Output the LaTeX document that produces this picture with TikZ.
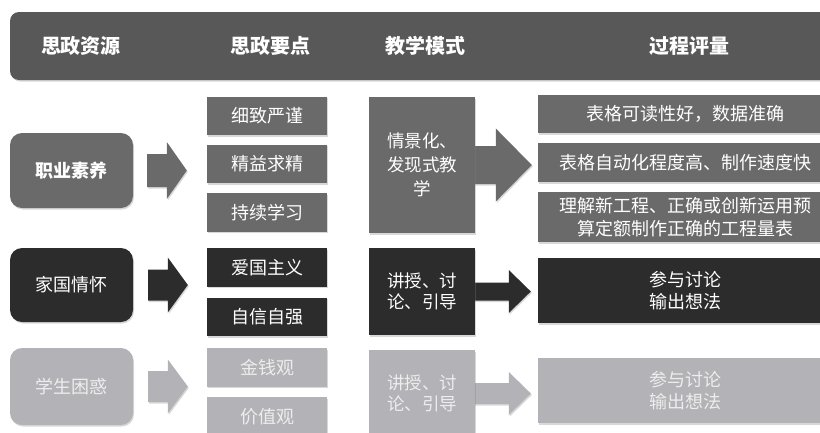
\documentclass[tikz,border=0pt]{standalone}
\usepackage{fontspec}
\setmainfont{Noto Sans CJK SC}
\usetikzlibrary{calc,shadows}
\pgfdeclarelayer{bg}
\pgfsetlayers{bg,main}
\definecolor{hdrc}{HTML}{585858}
\definecolor{rowA}{HTML}{6A6A6A}
\definecolor{rowB}{HTML}{2C2C2C}
\definecolor{rowC}{HTML}{B3B3B7}
\definecolor{txtC}{HTML}{EDEDED}
\newcommand\blockarr[8]{%
  \fill[#1] let \p1=(#2.east), \p2=(#3.west), \n1={\x1+#4}, \n2={\x2-#5} in
    (\n1,{\y1+#6}) -- ({\n2-#8},{\y1+#6}) -- ({\n2-#8},{\y1+#7}) -- (\n2,\y1)
    -- ({\n2-#8},{\y1-#7}) -- ({\n2-#8},{\y1-#6}) -- (\n1,{\y1-#6}) -- cycle;}
\tikzset{
  shad/.style={drop shadow={opacity=0.3,shadow xshift=1pt,shadow yshift=-1.5pt}},
  base/.style={inner sep=0pt, align=center, text=white, shad,
    font=\fontsize{18}{22}\selectfont},
  hdrbox/.style={base, fill=hdrc, rounded corners=9pt, minimum width=820pt, minimum height=68pt},
  hdrtxt/.style={text=white, inner sep=0pt, font=\fontsize{20}{24}\selectfont\bfseries},
  srcbox/.style={base, rounded corners=12pt, minimum width=123pt},
  keybox/.style={base, minimum width=120pt, minimum height=38.5pt},
  modebox/.style={base, minimum width=106pt, font=\fontsize{17.5}{21}\selectfont},
  evbox/.style={base, minimum width=294pt},
  arrA/.style={fill=rowA, shad},
  arrB/.style={fill=rowB, shad},
  arrC/.style={fill=rowC, shad},
}
\begin{document}
\begin{tikzpicture}[x=1pt,y=1pt]
\useasboundingbox (0,0) rectangle (820,-432);
\clip (0,0) rectangle (820,-432);
% header
\node[hdrbox] (hdr) at (420,-46) {};
\node[hdrtxt] (h1) at (81,-46) {思政资源};
\node[hdrtxt] (h2) at (270,-46) {思政要点};
\node[hdrtxt] (h3) at (425,-46) {教学模式};
\node[hdrtxt] (h4) at (689,-46) {过程评量};
% column 1
\node[srcbox, fill=rowA, minimum height=75pt, font=\fontsize{18}{22}\selectfont\bfseries] (s1) at (71.5,-170.5) {职业素养};
\node[srcbox, fill=rowB, minimum height=74pt] (s2) at (71.5,-285) {家国情怀};
\node[srcbox, fill=rowC, text=txtC, minimum height=77pt] (s3) at (71.5,-386.5) {学生困惑};
% column 2
\node[keybox, fill=rowA] (k1) at (267,-116) {细致严谨};
\node[keybox, fill=rowA] (k2) at (267,-164) {精益求精};
\node[keybox, fill=rowA] (k3) at (267,-212.5) {持续学习};
\node[keybox, fill=rowB] (k4) at (267,-267.5) {爱国主义};
\node[keybox, fill=rowB] (k5) at (267,-317) {自信自强};
\node[keybox, fill=rowC, text=txtC] (k6) at (267,-367.5) {金钱观};
\node[keybox, fill=rowC, text=txtC] (k7) at (267,-416.5) {价值观};
% column 3
\node[modebox, fill=rowA, minimum height=136pt, font=\fontsize{17.5}{24}\selectfont] (m1) at (422,-165) {\raisebox{-3pt}{\parbox{80pt}{\centering 情景化、\\发现式教\\学}}};
\node[modebox, fill=rowB, minimum height=87pt] (m2) at (422,-291.5) {讲授、讨\\论、引导};
\node[modebox, fill=rowC, text=txtC, minimum height=87pt] (m3) at (422,-393.5) {讲授、讨\\论、引导};
% column 4
\node[evbox, fill=rowA, minimum height=38pt] (e1) at (685,-114) {表格可读性好，数据准确};
\node[evbox, fill=rowA, minimum height=39pt] (e2) at (685,-162.5) {表格自动化程度高、制作速度快};
\node[evbox, fill=rowA, minimum height=50pt, font=\fontsize{18}{23}\selectfont] (e3) at (685,-217) {理解新工程、正确或创新运用预\\算定额制作正确的工程量表};
\node[evbox, fill=rowB, minimum height=65pt] (e4) at (685,-290.5) {参与讨论\\输出想法};
\node[evbox, fill=rowC, text=txtC, minimum height=65pt] (e5) at (685,-390.5) {参与讨论\\输出想法};
% block arrows
\begin{pgfonlayer}{bg}
\fill[white] (0,0) rectangle (820,-432);
\blockarr{arrA}{s1}{k2}{14pt}{20pt}{16.5pt}{28.5pt}{20pt}
\blockarr{arrB}{s2}{k4}{15pt}{19pt}{15.5pt}{27.5pt}{20pt}
\blockarr{arrC}{s3}{k6}{15pt}{19pt}{15.5pt}{27pt}{20pt}
\blockarr{arrA}{m1}{e2}{-5pt}{6pt}{19pt}{36.5pt}{36pt}
\blockarr{arrB}{m2}{e4}{-5pt}{7pt}{9pt}{21.5pt}{22pt}
\blockarr{arrC}{m3}{e5}{-5pt}{7pt}{10.5pt}{21.5pt}{22pt}
\end{pgfonlayer}
\end{tikzpicture}
\end{document}
